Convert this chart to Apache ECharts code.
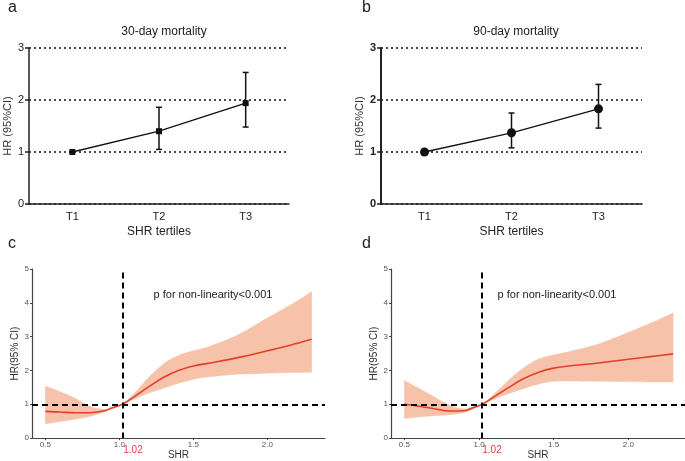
<!DOCTYPE html>
<html><head><meta charset="utf-8">
<script src="https://cdn.jsdelivr.net/npm/echarts@6/dist/echarts.min.js"></script>
<style>html,body{margin:0;padding:0;background:#fff}#c{width:685px;height:461px}</style>
</head><body><div id="c"></div>
<script>
// ---- data ----
const tertiles = ['T1', 'T2', 'T3'];
const hr30 = [1.00, 1.40, 1.94];
const lo30 = [1.00, 1.05, 1.48];
const hi30 = [1.00, 1.86, 2.53];
const hr90 = [1.00, 1.37, 1.83];
const lo90 = [1.00, 1.08, 1.46];
const hi90 = [1.00, 1.75, 2.30];

const shr = [0.5, 0.6, 0.7, 0.8, 0.9, 0.95, 1.02, 1.1, 1.2, 1.3, 1.4, 1.5, 1.6, 1.8, 2.0, 2.15, 2.3];
const hrC = [0.79, 0.77, 0.75, 0.75, 0.81, 0.89, 1.00, 1.22, 1.52, 1.80, 2.00, 2.13, 2.21, 2.38, 2.58, 2.74, 2.92];
const loC = [0.42, 0.49, 0.56, 0.64, 0.77, 0.87, 1.00, 1.15, 1.33, 1.48, 1.62, 1.74, 1.81, 1.89, 1.92, 1.94, 1.95];
const hiC = [1.54, 1.37, 1.18, 0.94, 0.85, 0.92, 1.00, 1.32, 1.80, 2.20, 2.44, 2.58, 2.70, 3.05, 3.55, 3.92, 4.33];
const hrD = [1.00, 0.94, 0.87, 0.80, 0.81, 0.88, 1.00, 1.22, 1.50, 1.76, 1.95, 2.07, 2.13, 2.22, 2.33, 2.41, 2.49];
const loD = [0.58, 0.63, 0.66, 0.69, 0.76, 0.84, 1.00, 1.15, 1.32, 1.47, 1.60, 1.68, 1.69, 1.68, 1.67, 1.66, 1.66];
const hiD = [1.70, 1.46, 1.22, 0.97, 0.86, 0.91, 1.00, 1.30, 1.72, 2.08, 2.34, 2.46, 2.55, 2.78, 3.12, 3.40, 3.70];
const cutoff = 1.02;
const refHR = 1;
const shrTicks = [0.5, 1.0, 1.5, 2.0];

// ---- styles ----
const FONT = '"Liberation Sans", Arial, sans-serif';
const BAND = '#f6c2aa';
const LINE = '#e2402a';

const chart = echarts.init(document.getElementById('c'), null, {renderer: 'canvas'});

function catX(gi) {
  return {
    type: 'category', gridIndex: gi, data: tertiles, boundaryGap: true,
    name: 'SHR tertiles', nameLocation: 'middle', nameGap: 22,
    nameTextStyle: {fontFamily: FONT, fontSize: 12, color: '#222'},
    axisLine: {lineStyle: {color: '#222', width: 1.5}},
    axisTick: {alignWithLabel: true, length: 5, lineStyle: {color: '#222', width: 1.5}},
    axisLabel: {fontFamily: FONT, fontSize: 11, color: '#222', margin: 7},
    splitLine: {show: false}
  };
}
function hrY(gi, bold) {
  return {
    type: 'value', gridIndex: gi, min: 0, max: 3, interval: 1,
    name: 'HR (95%CI)', nameLocation: 'middle', nameGap: 16,
    nameTextStyle: {fontFamily: FONT, fontSize: 11, color: '#333'},
    axisLine: {show: true, lineStyle: {color: '#222', width: bold ? 2 : 1.5}},
    axisTick: {show: true, length: 4, lineStyle: {color: '#222', width: 1.5}},
    axisLabel: {fontFamily: FONT, fontSize: 11, color: '#222', margin: 5, fontWeight: bold ? 'bold' : 'normal'},
    splitLine: {show: true, lineStyle: {type: [2, 3], color: '#111', width: 1.5}}
  };
}
function shrX(gi, max) {
  return {
    type: 'value', gridIndex: gi, min: 0.41, max: max,
    name: 'SHR', nameLocation: 'middle', nameGap: 11,
    nameTextStyle: {fontFamily: FONT, fontSize: 10, color: '#333'},
    axisLine: {onZero: false, lineStyle: {color: '#444', width: 1.2}},
    axisTick: {customValues: shrTicks, length: 2, lineStyle: {color: '#444'}},
    axisLabel: {customValues: shrTicks, fontFamily: FONT, fontSize: 8, color: '#555', margin: 3,
      formatter: v => v.toFixed(1)},
    splitLine: {show: false}
  };
}
function hrY2(gi) {
  return {
    type: 'value', gridIndex: gi, min: 0, max: 5, interval: 1,
    name: 'HR(95% CI)', nameLocation: 'middle', nameGap: 9,
    nameTextStyle: {fontFamily: FONT, fontSize: 10, color: '#333'},
    axisLine: {show: true, lineStyle: {color: '#444', width: 1.2}},
    axisTick: {show: true, length: 2, lineStyle: {color: '#444'}},
    axisLabel: {fontFamily: FONT, fontSize: 8, color: '#555', margin: 3},
    splitLine: {show: false}
  };
}

function errorBars(xi, yi, lo, hi) {
  return {
    type: 'custom', xAxisIndex: xi, yAxisIndex: yi, z: 3,
    data: tertiles.map((t, i) => [i, lo[i], hi[i]]),
    renderItem: function (params, api) {
      const p1 = api.coord([api.value(0), api.value(1)]);
      const p2 = api.coord([api.value(0), api.value(2)]);
      const w = 3;
      const st = {stroke: '#111', lineWidth: 1.5, fill: null};
      return {type: 'group', children: [
        {type: 'line', shape: {x1: p1[0], y1: p1[1], x2: p2[0], y2: p2[1]}, style: st},
        {type: 'line', shape: {x1: p1[0] - w, y1: p1[1], x2: p1[0] + w, y2: p1[1]}, style: st},
        {type: 'line', shape: {x1: p2[0] - w, y1: p2[1], x2: p2[0] + w, y2: p2[1]}, style: st}
      ]};
    }
  };
}
function pointLine(xi, yi, hr, symbol, size) {
  return {
    type: 'line', xAxisIndex: xi, yAxisIndex: yi, data: hr, z: 4,
    symbol: symbol, symbolSize: size, showSymbol: true,
    lineStyle: {color: '#111', width: 1.3},
    itemStyle: {color: '#111'}
  };
}
function pair(x, y) { return x.map((v, i) => [v, y[i]]); }

// smooth pixel path through points (Catmull-Rom -> cubic Bezier), continuing from current point
function smoothSeg(pts, k) {
  let d = '';
  for (let i = 0; i < pts.length - 1; i++) {
    const p0 = pts[Math.max(i - 1, 0)], p1 = pts[i], p2 = pts[i + 1], p3 = pts[Math.min(i + 2, pts.length - 1)];
    const c1 = [p1[0] + (p2[0] - p0[0]) * k, p1[1] + (p2[1] - p0[1]) * k];
    const c2 = [p2[0] - (p3[0] - p1[0]) * k, p2[1] - (p3[1] - p1[1]) * k];
    d += ' C' + c1[0] + ',' + c1[1] + ' ' + c2[0] + ',' + c2[1] + ' ' + p2[0] + ',' + p2[1];
  }
  return d;
}
function bandSeries(xi, yi, lo, hi, hr) {
  return [
    {type: 'custom', xAxisIndex: xi, yAxisIndex: yi, z: 2, silent: true,
      data: shr.map((x, i) => [x, lo[i], hi[i]]),
      renderItem: function (params, api) {
        if (params.dataIndex !== 0) return null;
        const upper = shr.map((x, i) => api.coord([x, hi[i]]));
        const lower = shr.map((x, i) => api.coord([x, lo[i]])).reverse();
        const d = 'M' + upper[0][0] + ',' + upper[0][1] + smoothSeg(upper, 0.17) +
          ' L' + lower[0][0] + ',' + lower[0][1] + smoothSeg(lower, 0.17) + ' Z';
        return {type: 'path', shape: {pathData: d}, style: {fill: BAND, stroke: BAND, lineWidth: 0.5}};
      }},
    {type: 'line', xAxisIndex: xi, yAxisIndex: yi, smooth: 0.4, symbol: 'none', z: 4,
      data: pair(shr, hr), lineStyle: {color: LINE, width: 1.6},
      markLine: {
        silent: true, symbol: 'none', animation: false,
        lineStyle: {color: '#000', type: [6, 4], width: 2},
        label: {show: false},
        data: [{yAxis: refHR}, [{coord: [cutoff, 4.9]}, {coord: [cutoff, 0]}]]
      }}
  ];
}

const option = {
  animation: false,
  backgroundColor: '#fff',
  textStyle: {fontFamily: FONT},
  title: [
    {text: '30-day mortality', left: 159, top: 21, textAlign: 'center', textStyle: {fontFamily: FONT, fontSize: 12, fontWeight: 'normal', color: '#222'}},
    {text: '90-day mortality', left: 511, top: 21, textAlign: 'center', textStyle: {fontFamily: FONT, fontSize: 12, fontWeight: 'normal', color: '#222'}}
  ],
  grid: [
    {left: 29, top: 48, width: 260, height: 156},
    {left: 381, top: 48, width: 261, height: 156},
    {left: 32, top: 269, width: 293, height: 172},
    {left: 391, top: 269, width: 294, height: 172}
  ],
  xAxis: [catX(0), catX(1), shrX(2, 2.39), shrX(3, 2.38)],
  yAxis: [hrY(0, false), hrY(1, true), hrY2(2), hrY2(3)],
  series: [
    errorBars(0, 0, lo30, hi30),
    pointLine(0, 0, hr30, 'rect', 6),
    errorBars(1, 1, lo90, hi90),
    pointLine(1, 1, hr90, 'circle', 9),
    ...bandSeries(2, 2, loC, hiC, hrC),
    ...bandSeries(3, 3, loD, hiD, hrD)
  ],
  graphic: [
    {type: 'text', left: 8, top: 0, style: {text: 'a', font: '16px ' + FONT, fill: '#222'}},
    {type: 'text', left: 362, top: 0, style: {text: 'b', font: '16px ' + FONT, fill: '#222'}},
    {type: 'text', left: 8, top: 236, style: {text: 'c', font: '16px ' + FONT, fill: '#222'}},
    {type: 'text', left: 362, top: 236, style: {text: 'd', font: '16px ' + FONT, fill: '#222'}},
    {type: 'text', x: 213, y: 295, style: {text: 'p for non-linearity<0.001', font: '11px ' + FONT, fill: '#222', align: 'center', verticalAlign: 'middle'}},
    {type: 'text', x: 557, y: 295, style: {text: 'p for non-linearity<0.001', font: '11px ' + FONT, fill: '#222', align: 'center', verticalAlign: 'middle'}},
    {type: 'text', x: 133, y: 450, style: {text: cutoff.toFixed(2), font: '10px ' + FONT, fill: '#d9443a', align: 'center', verticalAlign: 'middle'}},
    {type: 'text', x: 492, y: 450, style: {text: cutoff.toFixed(2), font: '10px ' + FONT, fill: '#d9443a', align: 'center', verticalAlign: 'middle'}}
  ]
};
chart.setOption(option);
</script></body></html>
